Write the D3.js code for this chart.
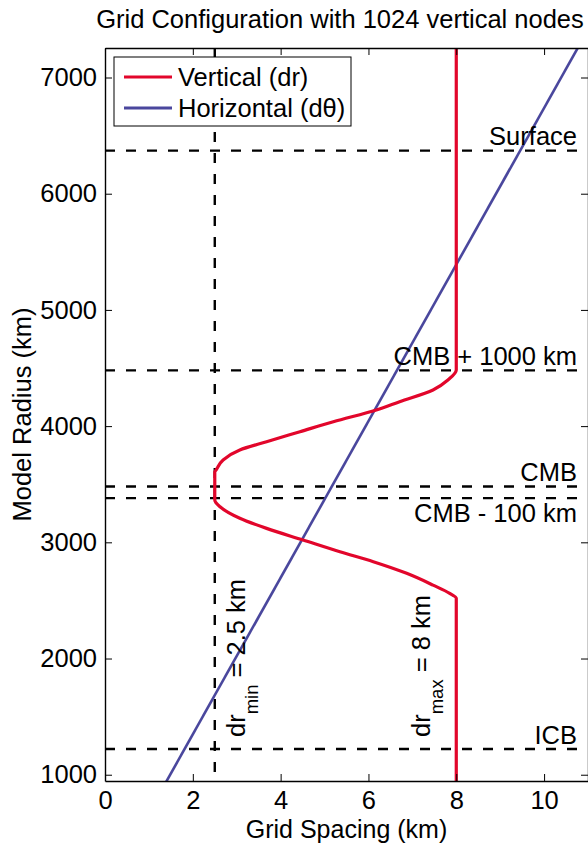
<!DOCTYPE html>
<html>
<head>
<meta charset="utf-8">
<script src="https://cdn.jsdelivr.net/npm/d3@7"></script>
<style>
  html,body{margin:0;padding:0;background:#fff;}
  svg{display:block;font-family:"Liberation Sans",Arial,Helvetica,sans-serif;}
</style>
</head>
<body>
<div id="chart"></div>
<script>
// grid spacing vs. model radius — vertical (dr) and horizontal (dθ) spacing

const xDomain = [0, 11];
const yDomain = [946, 7254];
const xTicks = [0, 2, 4, 6, 8, 10];
const yTicks = [1000, 2000, 3000, 4000, 5000, 6000, 7000];

// vertical spacing dr (km)
const drRadius  = [7260, 4483, 4397, 4311, 4210, 4139, 4038, 3952, 3866, 3795, 3709, 3623, 3608, 3365,
                   3306, 3207, 3120, 3020, 2919, 2833, 2733, 2632, 2561, 2518, 940];
const drSpacing = [8, 8, 7.81, 7.47, 6.71, 6.18, 5.20, 4.44, 3.68, 3.07, 2.69, 2.53, 2.5, 2.5,
                   2.62, 3.07, 3.68, 4.51, 5.35, 6.11, 6.87, 7.47, 7.85, 8, 8];

// horizontal spacing r·dθ (km)
const dthRadius  = [940, 7260];
const dthSpacing = [1.395, 10.775];

// reference boundaries (km)
const bounds = [
  {name:'Surface',        r:6371, pos:'above'},
  {name:'CMB + 1000 km',  r:4480, pos:'above'},
  {name:'CMB',            r:3480, pos:'above'},
  {name:'CMB - 100 km',   r:3380, pos:'below'},
  {name:'ICB',            r:1221, pos:'above'}
];
const drMin = 2.5, drMax = 8;

const W = 588, H = 844;
const m = {t:48, r:0, b:63, l:105};
const RED = '#e2062b', BLUE = '#4a479d';
const FS = 25.5;

const svg = d3.select('#chart').append('svg').attr('width', W).attr('height', H);
const x = d3.scaleLinear().domain(xDomain).range([m.l, W - m.r]);
const y = d3.scaleLinear().domain(yDomain).range([H - m.b, m.t]);

svg.append('clipPath').attr('id','clip').append('rect')
  .attr('x', m.l).attr('y', m.t).attr('width', W - m.r - m.l).attr('height', H - m.b - m.t);
const plot = svg.append('g').attr('clip-path','url(#clip)');

// dashed reference lines
const dash = {'stroke':'#000','stroke-width':2.4,'stroke-dasharray':'10,11','fill':'none'};
bounds.forEach(b=>{
  const l = plot.append('line').attr('x1', x(xDomain[0])).attr('x2', x(xDomain[1]))
    .attr('y1', y(b.r)).attr('y2', y(b.r));
  Object.entries(dash).forEach(([k,v])=>l.attr(k,v));
});
const vl = plot.append('line').attr('x1', x(drMin)).attr('x2', x(drMin))
  .attr('y1', y(yDomain[1])).attr('y2', y(yDomain[0]));
Object.entries(dash).forEach(([k,v])=>vl.attr(k,v));

// curves
const drLine = d3.line().x(d=>x(d[1])).y(d=>y(d[0])).curve(d3.curveMonotoneY);
const straight = d3.line().x(d=>x(d[1])).y(d=>y(d[0]));
plot.append('path').datum(dthRadius.map((r,i)=>[r, dthSpacing[i]])).attr('d', straight)
  .attr('fill','none').attr('stroke', BLUE).attr('stroke-width', 2.6);
plot.append('path').datum(drRadius.map((r,i)=>[r, drSpacing[i]])).attr('d', drLine)
  .attr('fill','none').attr('stroke', RED).attr('stroke-width', 3.2);

// axes (ticks inward on all four sides)
const style = g => { g.selectAll('path').attr('stroke','#000').attr('stroke-width',1.4);
  g.selectAll('line').attr('stroke','#000').attr('stroke-width',1);
  g.selectAll('text').attr('font-size',FS).attr('fill','#000').attr('font-family',null); };
svg.append('g').attr('transform',`translate(0,${H - m.b})`)
  .call(d3.axisBottom(x).tickValues(xTicks).tickSizeInner(-7).tickSizeOuter(0).tickPadding(10)).call(style);
svg.append('g').attr('transform',`translate(${m.l},0)`)
  .call(d3.axisLeft(y).tickValues(yTicks).tickFormat(d3.format('d')).tickSizeInner(-7).tickSizeOuter(0).tickPadding(8)).call(style);
svg.append('g').attr('transform',`translate(0,${m.t})`)
  .call(d3.axisTop(x).tickValues(xTicks).tickSizeInner(-7).tickSizeOuter(0).tickFormat('')).call(style);
svg.append('g').attr('transform',`translate(${W - m.r},0)`)
  .call(d3.axisRight(y).tickValues(yTicks).tickSizeInner(-7).tickSizeOuter(0).tickFormat('')).call(style);

// boundary labels
bounds.forEach(b=>{
  svg.append('text').attr('x', 577).attr('y', b.pos==='above' ? y(b.r) - 5.5 : y(b.r) + 23.5)
    .attr('text-anchor','end').attr('font-size',FS).text(b.name);
});

// rotated dr labels
function rotLabel(xv, sub, rest){
  const t = svg.append('text').attr('transform',`translate(${x(xv)},737) rotate(-90)`).attr('font-size',FS);
  t.append('tspan').text('dr');
  t.append('tspan').attr('font-size',18.5).attr('dy',13).text(sub);
  t.append('tspan').attr('dy',-13).text('\u00a0' + rest);
}
rotLabel(drMin + 0.69, 'min', '= 2.5 km');
rotLabel(drMax - 0.6, 'max', '= 8 km');

// legend
const lg = svg.append('g');
lg.append('rect').attr('x',114).attr('y',57).attr('width',237).attr('height',69)
  .attr('fill','#fff').attr('stroke','#000').attr('stroke-width',1);
[['Vertical (dr)', RED, 77, 85.5], ['Horizontal (d\u03b8)', BLUE, 108, 117]].forEach(([lab,col,ly,ty])=>{
  lg.append('line').attr('x1',124).attr('x2',172).attr('y1',ly).attr('y2',ly).attr('stroke',col).attr('stroke-width',3);
  lg.append('text').attr('x',178).attr('y',ty).attr('font-size',FS).text(lab);
});

// titles
svg.append('text').attr('x',340).attr('y',28).attr('text-anchor','middle').attr('font-size',FS)
  .text('Grid Configuration with 1024 vertical nodes');
svg.append('text').attr('x',(m.l + W - m.r)/2).attr('y',838).attr('text-anchor','middle').attr('font-size',25)
  .text('Grid Spacing (km)');
svg.append('text').attr('transform',`translate(31,${(m.t + H - m.b)/2}) rotate(-90)`)
  .attr('text-anchor','middle').attr('font-size',FS).text('Model Radius (km)');
</script>
</body>
</html>
